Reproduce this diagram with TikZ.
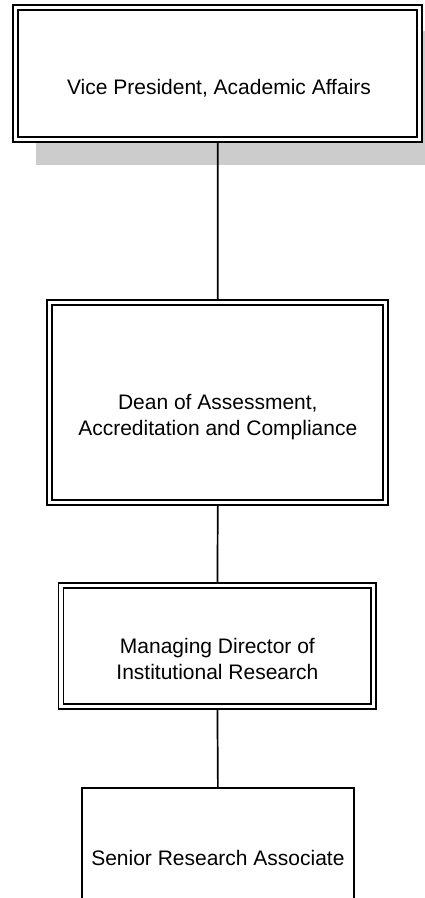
\documentclass[tikz,border=0pt]{standalone}
\usepackage{fontspec}
\setmainfont{Liberation Sans}
\usetikzlibrary{backgrounds}
\tikzset{
  dbox/.style={draw=black, rectangle, inner sep=0pt, line width=1.8pt, double=white, double distance=3.2pt, fill=white},
  sbox/.style={draw=black, rectangle, inner sep=0pt, line width=1.8pt, fill=white},
  lbl/.style={anchor=base, align=center, inner sep=0pt, font=\fontsize{21}{26}\selectfont},
  conn/.style={draw=black, line width=1.7pt},
  shade/.style={fill=black!20, draw=none}
}
\begin{document}
\begin{tikzpicture}[x=1pt, y=-1pt]
\useasboundingbox (0,0) rectangle (424,898);
\clip (0,0) rectangle (424,898);
\node[dbox, minimum width=403.8pt, minimum height=131.6pt] (vp) at (217.7,73.4) {};
\node[dbox, minimum width=336pt, minimum height=200pt] (dean) at (217.8,402.5) {};
\node[dbox, minimum width=312.7pt, minimum height=120.7pt] (md) at (217.4,646.2) {};
\node[sbox, minimum width=272.3pt, minimum height=140pt] (sra) at (217.9,858.3) {};
\node[lbl] (tvp) at (219,94.3) {Vice President, Academic Affairs};
\node[lbl] (tdean) at (217.8,435.7) {Dean of Assessment,\\Accreditation and Compliance};
\node[lbl] (tmd) at (217.4,679.3) {Managing Director of\\Institutional Research};
\node[lbl] (tsra) at (217.9,865) {Senior Research Associate};
\begin{scope}[on background layer]
  \fill[shade] (35.7,31) rectangle (446,165);
  \draw[conn] (vp.south) -- (dean.north);
  \draw[conn] (dean.south) -- (md.north);
  \draw[conn] (md.south) -- (sra.north);
\end{scope}
\end{tikzpicture}
\end{document}
